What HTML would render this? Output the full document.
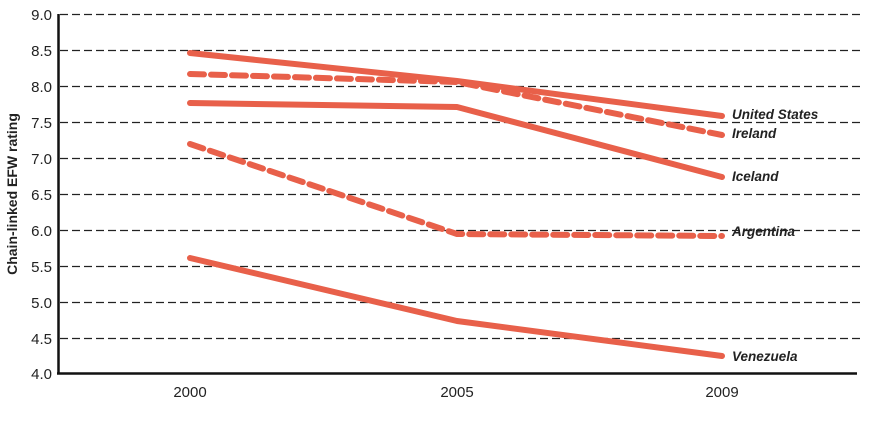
<html><body style="margin:0;background:#fff">
<svg width="886" height="422" xmlns="http://www.w3.org/2000/svg" font-family="Liberation Sans, sans-serif">
<g stroke="#222" stroke-width="1.2" stroke-dasharray="8,4">
<line x1="60" x2="860" y1="14.5" y2="14.5"/><line x1="60" x2="860" y1="50.5" y2="50.5"/><line x1="60" x2="860" y1="86.5" y2="86.5"/><line x1="60" x2="860" y1="122.5" y2="122.5"/><line x1="60" x2="860" y1="158.5" y2="158.5"/><line x1="60" x2="860" y1="194.5" y2="194.5"/><line x1="60" x2="860" y1="230.5" y2="230.5"/><line x1="60" x2="860" y1="266.5" y2="266.5"/><line x1="60" x2="860" y1="302.5" y2="302.5"/><line x1="60" x2="860" y1="338.5" y2="338.5"/>
</g>
<line x1="58.5" x2="58.5" y1="14" y2="374" stroke="#111" stroke-width="2.5"/>
<line x1="57" x2="857" y1="373.5" y2="373.5" stroke="#111" stroke-width="2.5"/>
<g font-size="15" fill="#222" text-anchor="end">
<text x="52" y="20">9.0</text><text x="52" y="56">8.5</text><text x="52" y="92">8.0</text><text x="52" y="128">7.5</text><text x="52" y="164">7.0</text><text x="52" y="200">6.5</text><text x="52" y="236">6.0</text><text x="52" y="272">5.5</text><text x="52" y="308">5.0</text><text x="52" y="344">4.5</text><text x="52" y="379">4.0</text>
</g>
<g font-size="15" fill="#222" text-anchor="middle">
<text x="190" y="397">2000</text><text x="457" y="397">2005</text><text x="722" y="397">2009</text>
</g>
<text transform="translate(17,194) rotate(-90)" font-size="14" font-weight="bold" fill="#222" text-anchor="middle">Chain-linked EFW rating</text>
<g fill="none" stroke="#e8604a" stroke-width="6" stroke-linecap="round" stroke-linejoin="round">
<polyline points="190,53 457,81 722,116"/>
<polyline points="190,74 457,82 722,135" stroke-dasharray="14,7"/>
<polyline points="190,103 457,107 722,177"/>
<polyline points="190,144 457,234 722,236" stroke-dasharray="14,7"/>
<polyline points="190,258 457,321 722,356"/>
</g>
<g font-size="13.5" font-style="italic" font-weight="bold" fill="#222">
<text x="732" y="119">United States</text><text x="732" y="138">Ireland</text><text x="732" y="181">Iceland</text><text x="732" y="236">Argentina</text><text x="732" y="361">Venezuela</text>
</g>
</svg>
</body></html>
